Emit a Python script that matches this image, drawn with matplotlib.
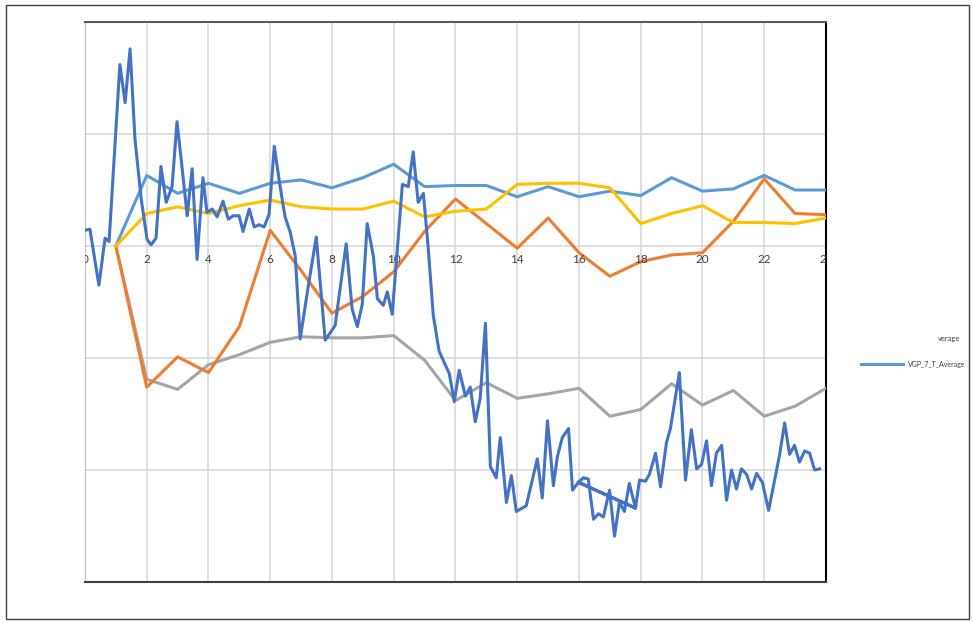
import matplotlib.pyplot as plt
import matplotlib.transforms as mtransforms
from matplotlib.lines import Line2D
from matplotlib.patches import Rectangle

plt.rcParams['font.family'] = ['Lato', 'DejaVu Sans']

# hourly average series (x = 1..24)
hours = list(range(1, 25))
vgp_7_avg = [0, 0.63, 0.47, 0.56, 0.47, 0.56, 0.59, 0.52, 0.61, 0.73, 0.53, 0.54,
             0.54, 0.44, 0.53, 0.44, 0.49, 0.45, 0.61, 0.49, 0.51, 0.63, 0.50, 0.50]
yellow_avg = [0, 0.29, 0.35, 0.29, 0.36, 0.41, 0.35, 0.33, 0.33, 0.40, 0.26, 0.31,
              0.33, 0.55, 0.56, 0.56, 0.52, 0.20, 0.29, 0.36, 0.21, 0.21, 0.20, 0.25]
orange_avg = [0, -1.26, -0.99, -1.13, -0.72, 0.14, -0.22, -0.60, -0.45, -0.23, 0.13, 0.42,
              0.20, -0.02, 0.25, -0.06, -0.27, -0.14, -0.08, -0.06, 0.22, 0.60, 0.29, 0.28]
gray_avg = [0, -1.19, -1.28, -1.06, -0.97, -0.86, -0.81, -0.82, -0.82, -0.80, -1.02, -1.38,
            -1.22, -1.36, -1.32, -1.27, -1.52, -1.46, -1.23, -1.42, -1.29, -1.52, -1.43, -1.27]

# raw trace (x, y) in chart order
raw_x = [0.00, 0.16, 0.45, 0.65, 0.78, 1.13, 1.30, 1.46, 1.62, 1.82, 2.01, 2.14, 2.30, 2.46,
         2.63, 2.82, 2.98, 3.14, 3.31, 3.47, 3.63, 3.82, 3.95, 4.12, 4.28, 4.47, 4.64, 4.80,
         4.99, 5.12, 5.32, 5.48, 5.64, 5.80, 5.96, 6.13, 6.32, 6.48, 6.65, 6.81, 6.97, 7.23,
         7.49, 7.78, 8.10, 8.46, 8.65, 8.82, 8.98, 9.14, 9.34, 9.47, 9.66, 9.79, 9.95, 10.28,
         10.47, 10.63, 10.79, 10.96, 11.12, 11.28, 11.47, 11.80, 11.96, 12.12, 12.32, 12.48,
         12.64, 12.80, 12.97, 13.13, 13.32, 13.45, 13.65, 13.81, 13.97, 14.29, 14.65, 14.81,
         14.98, 15.17, 15.30, 15.46, 15.66, 15.79, 15.98, 16.14, 16.30, 16.47, 16.63, 16.79,
         16.99, 17.15, 17.31, 17.47, 17.63, 17.83, 15.98, 17.83, 17.96, 18.15, 18.28, 18.48,
         18.64, 18.83, 18.96, 19.25, 19.45, 19.64, 19.81, 19.97, 20.13, 20.29, 20.45, 20.62,
         20.78, 20.94, 21.10, 21.26, 21.43, 21.59, 21.75, 21.94, 22.14, 22.33, 22.50, 22.66,
         22.82, 22.98, 23.14, 23.31, 23.47, 23.63, 23.79]
raw_y = [0.14, 0.15, -0.35, 0.07, 0.04, 1.62, 1.28, 1.76, 0.95, 0.42, 0.06, 0.01, 0.07, 0.71,
         0.39, 0.53, 1.11, 0.71, 0.27, 0.69, -0.12, 0.61, 0.30, 0.33, 0.26, 0.40, 0.24, 0.27,
         0.27, 0.13, 0.33, 0.17, 0.19, 0.17, 0.28, 0.89, 0.53, 0.26, 0.12, -0.09, -0.83, -0.36,
         0.08, -0.84, -0.71, 0.02, -0.56, -0.72, -0.52, 0.20, -0.09, -0.47, -0.53, -0.41, -0.61, 0.55,
         0.53, 0.84, 0.39, 0.47, -0.03, -0.62, -0.94, -1.14, -1.39, -1.11, -1.34, -1.26,
         -1.57, -1.36, -0.69, -1.97, -2.07, -1.71, -2.29, -2.05, -2.37, -2.32, -1.90, -2.25,
         -1.56, -2.14, -1.88, -1.71, -1.63, -2.18, -2.11, -2.07, -2.08, -2.44, -2.39, -2.42,
         -2.18, -2.59, -2.29, -2.37, -2.12, -2.34, -2.11, -2.34, -2.09, -2.10, -2.04, -1.85,
         -2.15, -1.76, -1.63, -1.13, -2.09, -1.64, -1.99, -1.95, -1.74, -2.14, -1.85, -1.78,
         -2.27, -2.00, -2.17, -1.99, -2.04, -2.17, -2.03, -2.11, -2.36, -2.10, -1.86, -1.58,
         -1.86, -1.78, -1.93, -1.83, -1.85, -2.00, -1.99]

x_ticks = [0, 2, 4, 6, 8, 10, 12, 14, 16, 18, 20, 22, 24]

fig = plt.figure(figsize=(9.73, 6.23), dpi=100)
ax = fig.add_axes([85 / 973, 41 / 623, 741 / 973, 560 / 623])

lw = 2.2
ax.plot(hours, vgp_7_avg, color='#5B9BD5', lw=lw, zorder=3)
ax.plot(hours, gray_avg, color='#A5A5A5', lw=lw, zorder=3)
ax.plot(hours, orange_avg, color='#ED7D31', lw=lw, zorder=3)
ax.plot(hours, yellow_avg, color='#FFC000', lw=lw, zorder=3)
ax.plot(raw_x, raw_y, color='#4472C4', lw=lw, zorder=4)

ax.set_xlim(0, 24)
ax.set_ylim(-3, 2)
ax.set_xticks(x_ticks)
ax.set_yticks([-3, -2, -1, 0, 1, 2])
ax.grid(True, color='#D9D9D9', lw=1.2, zorder=0)
ax.tick_params(length=0, labelbottom=False, labelleft=False)
ax.spines['left'].set_color('#BFBFBF')
ax.spines['top'].set_color('#595959')
ax.spines['top'].set_linewidth(1.5)
ax.spines['right'].set_color('black')
ax.spines['right'].set_linewidth(1.5)
ax.spines['bottom'].set_color('#404040')
ax.spines['bottom'].set_linewidth(1.5)

# x labels sit on the zero line and get clipped by the plot area
off = mtransforms.ScaledTranslation(0, -6 / 72, fig.dpi_scale_trans)
for t in x_ticks:
    ax.text(t, 0, str(t), transform=ax.transData + off, ha='center', va='top',
            fontsize=8.5, color='#404040', clip_on=True)

# truncated legend
fig.text(960 / 973, 1 - 338 / 623, 'verage', ha='right', va='center',
         fontsize=5.5, color='#404040')
fig.add_artist(Line2D([861 / 973, 903 / 973], [1 - 364 / 623, 1 - 364 / 623],
                      color='#5B9BD5', lw=lw, transform=fig.transFigure))
fig.text(908 / 973, 1 - 364 / 623, 'VGP_7_T_Average', ha='left', va='center',
         fontsize=5.0, color='#404040')

# outer chart frame
fig.add_artist(Rectangle((6 / 973, 4 / 623), 963 / 973, 614 / 623, fill=False,
                         edgecolor='#404040', lw=1.0, transform=fig.transFigure))

plt.savefig('out.png', dpi=100)
